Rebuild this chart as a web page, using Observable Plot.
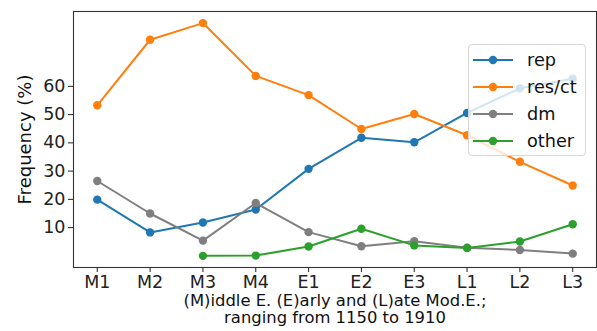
<!DOCTYPE html>
<html>
<head>
<meta charset="utf-8">
<script src="https://cdn.jsdelivr.net/npm/d3@7"></script>
<script src="https://cdn.jsdelivr.net/npm/@observablehq/plot@0.6"></script>
<style>
  html, body { margin: 0; padding: 0; background: #fff; }
  #wrap { position: relative; width: 597px; height: 331px; font-family: "DejaVu Sans", sans-serif; }
  #legend { position: absolute; left: 468px; top: 44px; width: 118px; height: 112px;
    background: rgba(255,255,255,0.8); border: 1px solid #d6d6d6; border-radius: 4px; box-sizing: border-box; }
  .item { position: absolute; left: 4px; height: 22px; display: flex; align-items: center; font-size: 17.7px; color: #111; white-space: nowrap; }
  .item svg { margin-right: 14px; }
</style>
</head>
<body>
<div id="wrap"><div id="legend"></div></div>
<script>
const categories = ["M1", "M2", "M3", "M4", "E1", "E2", "E3", "L1", "L2", "L3"];
const seriesNames = ["rep", "res/ct", "dm", "other"];
const seriesColors = ["#1f77b4", "#ff7f0e", "#7f7f7f", "#2ca02c"];
const rep = [19.9, 8.3, 11.8, 16.4, 30.8, 41.8, 40.2, 50.6, 59.3, 62.7];
const resct = [53.3, 76.5, 82.4, 63.7, 56.9, 44.9, 50.2, 42.7, 33.3, 24.9];
const dm = [26.5, 15.0, 5.4, 18.7, 8.4, 3.4, 5.2, 2.9, 2.1, 0.8];
const other = [null, null, 0, 0.1, 3.3, 9.6, 3.7, 2.8, 5.1, 11.2];
const yTicks = [10, 20, 30, 40, 50, 60];
const yLabel = "Frequency (%)";
const xLabel1 = "(M)iddle E. (E)arly and (L)ate Mod.E.;";
const xLabel2 = "ranging from 1150 to 1910";

const allSeries = [rep, resct, dm, other];
const rows = [];
allSeries.forEach((vals, si) => {
  vals.forEach((v, i) => {
    if (v != null) rows.push({series: seriesNames[si], cat: categories[i], value: v});
  });
});

const marks = [Plot.frame({stroke: "#333", strokeWidth: 1.1})];
seriesNames.forEach((name, si) => {
  const d = rows.filter(r => r.series === name);
  marks.push(Plot.line(d, {x: "cat", y: "value", stroke: seriesColors[si], strokeWidth: 2}));
  marks.push(Plot.dot(d, {x: "cat", y: "value", fill: seriesColors[si], r: 4.2}));
});
marks.push(
  Plot.axisY({ticks: yTicks, tickSize: 5, tickPadding: 3, label: null, fontSize: 17.5, color: "#222"}),
  Plot.axisX({tickSize: 5, tickPadding: 3, label: null, fontSize: 17.5, color: "#222"}),
  Plot.text([yLabel], {text: d => d, frameAnchor: "left", textAnchor: "middle", rotate: -90, dx: -48, fontSize: 18, fill: "#111"}),
  Plot.text([xLabel1], {text: d => d, frameAnchor: "bottom", dy: 38, fontSize: 16.4, fill: "#111"}),
  Plot.text([xLabel2], {text: d => d, frameAnchor: "bottom", dy: 55.5, fontSize: 16.4, fill: "#111"})
);

const chart = Plot.plot({
  width: 597,
  height: 331,
  marginLeft: 73,
  marginRight: 1,
  marginTop: 11,
  marginBottom: 64,
  style: {fontFamily: "DejaVu Sans, sans-serif", fontSize: "17px", background: "transparent", overflow: "visible"},
  x: {type: "point", domain: categories, padding: 0.45, round: false},
  y: {domain: [-4.12, 86.5]},
  marks
});
const wrap = document.getElementById("wrap");
wrap.insertBefore(chart, wrap.firstChild);

const legend = document.getElementById("legend");
seriesNames.forEach((name, si) => {
  const div = document.createElement("div");
  div.className = "item";
  div.style.top = (4 + si * 27) + "px";
  div.innerHTML = `<svg width="40" height="14"><line x1="0" y1="7" x2="40" y2="7" stroke="${seriesColors[si]}" stroke-width="2"/><circle cx="20" cy="7" r="4.2" fill="${seriesColors[si]}"/></svg><span>${name}</span>`;
  legend.appendChild(div);
});
</script>
</body>
</html>
